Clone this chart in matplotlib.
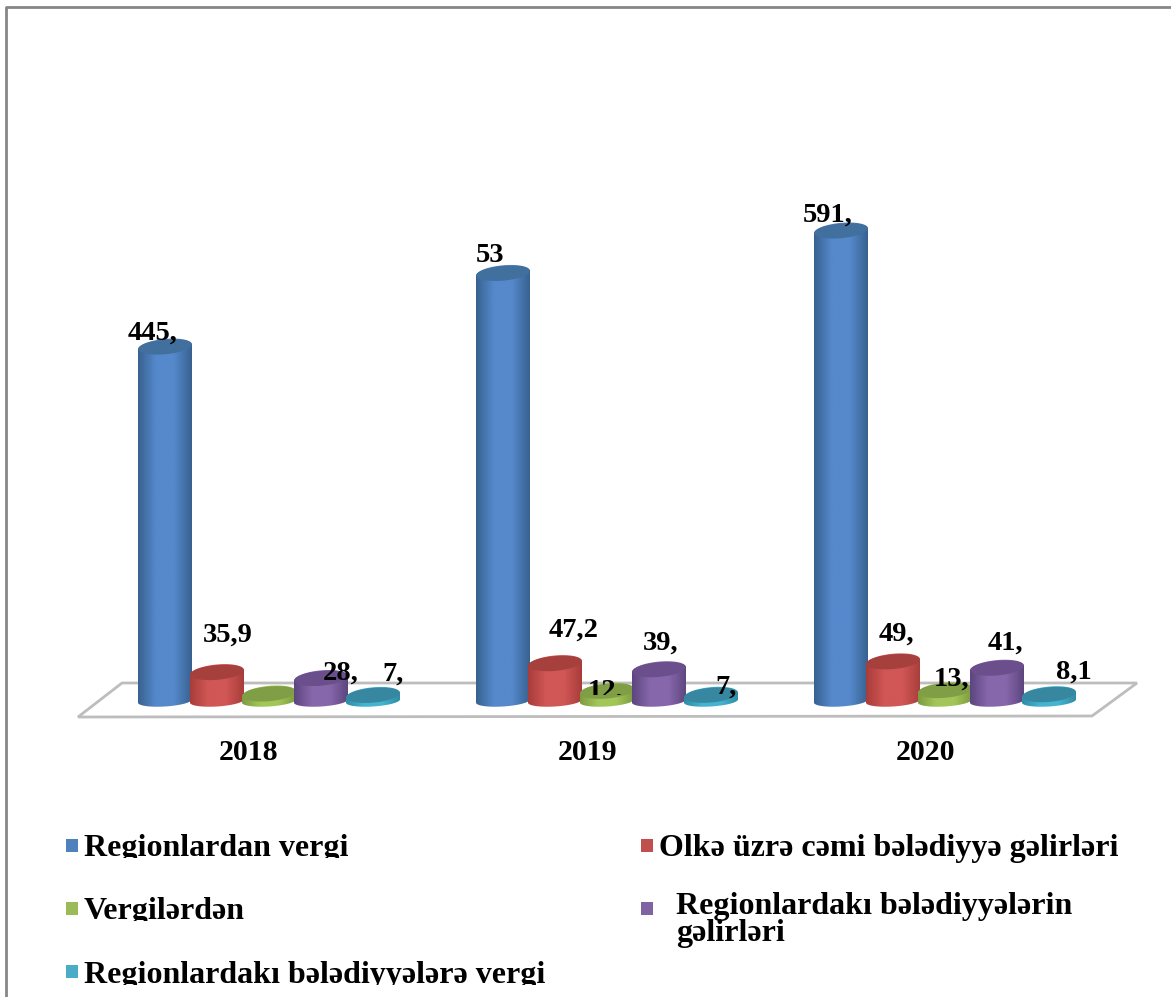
import matplotlib
matplotlib.use('Agg')
import matplotlib.pyplot as plt
import numpy as np
from matplotlib.patches import Polygon, Rectangle
from matplotlib.transforms import Affine2D

# Values in the order the bars stand inside each year
years = ['2018', '2019', '2020']
series_names = ['Regionlardan vergi', 'Olkə üzrə cəmi bələdiyyə gəlirləri', 'Vergilərdən',
                'Regionlardakı bələdiyyələrin\ngəlirləri', 'Regionlardakı bələdiyyələrə vergi']
vergi = [445.4, 538.0, 591.4]
gelir = [35.9, 47.2, 49.4]
vergilerden = [9.0, 12.4, 13.3]
bel_gelir = [28.5, 39.5, 41.4]
bel_vergi = [7.2, 7.4, 8.1]
values = [vergi, gelir, vergilerden, bel_gelir, bel_vergi]

# Data labels as printed, some of them are cut short
labels_vergi = ['445,', '53', '591,']
labels_gelir = ['35,9', '47,2', '49,']
labels_vergilerden = ['', '12,', '13,']
labels_bel_gelir = ['28,', '39,', '41,']
labels_bel_vergi = ['7,', '7,', '8,1']
labels = [labels_vergi, labels_gelir, labels_vergilerden, labels_bel_gelir, labels_bel_vergi]

# edge, centre, lid
colors = [('#38618f', '#5589cc', '#41709f'),
          ('#a83c3a', '#d05755', '#a5403d'),
          ('#7d9b40', '#a3c659', '#7f9e45'),
          ('#5c457e', '#8767ab', '#6a4f8c'),
          ('#2f8ba6', '#45b4d0', '#36879f')]
legend_colors = ['#4f81bd', '#c0504d', '#9bbb59', '#8064a2', '#4bacc6']

W, H = 1171, 997
PX_PER_UNIT = 0.795   # y scale
BASE_Y = 701          # pixel row of the value 0
GROUP_STEP = 338      # pixels between the years
FIRST_GROUP = 269     # pixel column of the first year's centre
BAR_STEP = 52
RX, RY, RY_BASE = 27, 8, 5.5

plt.rcParams['font.family'] = ['Liberation Serif', 'DejaVu Serif']

fig = plt.figure(figsize=(W / 100, H / 100), dpi=100, facecolor='white')
ax = fig.add_axes([0, 0, 1, 1])
ax.axis('off')
xlim = (-FIRST_GROUP / GROUP_STEP, (W - FIRST_GROUP) / GROUP_STEP)
ylim = (-(H - BASE_Y) / PX_PER_UNIT, BASE_Y / PX_PER_UNIT)

# Pixel layout helper for the things that are not data (floor, frame, legend)
px = Affine2D().scale(1 / W, -1 / H).translate(0, 1) + fig.transFigure


def px_text(x, y, s, size=20.5, ha='center', clip_bottom=None, **kw):
    t = fig.text(x / W, 1 - (y + 2) / H, s, fontsize=size, fontweight='bold', ha=ha, va='center',
                 color='black', zorder=20, **kw)
    if clip_bottom is not None:
        t.set_clip_path(Rectangle((0, 0), W, clip_bottom, transform=px))
        t.set_clip_on(True)
    return t


def ellipse(cx, cy, rx, ry, t):
    # slightly tilted ellipse, right side is higher
    xs = cx + rx * np.cos(t)
    ys = cy + ry * np.sin(t) + np.cos(t) * ry * 0.3
    return np.column_stack([xs, ys])


def cylinder(cx, value, col, z):
    rx = RX / GROUP_STEP
    ry = RY / PX_PER_UNIT
    edge, mid, lid = col
    lower = ellipse(cx, 0, rx, RY_BASE / PX_PER_UNIT, np.linspace(np.pi, 2 * np.pi, 40))
    upper = ellipse(cx, value, rx, ry, np.linspace(0, np.pi, 40))
    outline = np.vstack([lower, upper])
    cmap = matplotlib.colors.LinearSegmentedColormap.from_list('c', [edge, mid, mid, edge], 256)
    grad = np.linspace(0, 1, 256).reshape(1, -1)
    im = ax.imshow(grad, cmap=cmap, aspect='auto', zorder=z, interpolation='bilinear',
                   extent=(cx - rx, cx + rx, -2 * ry, value + 2 * ry))
    im.set_clip_path(Polygon(outline, transform=ax.transData))
    top = ellipse(cx, value, rx * 0.985, ry * 0.92, np.linspace(0, 2 * np.pi, 80))
    ax.add_patch(Polygon(top, closed=True, facecolor=lid, edgecolor='none', zorder=z + 0.1))


# Frame around the chart
ax.add_line(plt.Line2D([6, 6, W], [H, 7, 7], color='#868686', lw=2, transform=px, zorder=1))

# Floor of the 3D plot
floor = [(78, 717), (122, 683), (1137, 683), (1092, 716)]
ax.add_patch(Polygon(floor, closed=True, facecolor='white', edgecolor='#bdbdbd', lw=2, transform=px, zorder=1))

# Bars, one year at a time, left to right
for g in range(len(years)):
    for s in range(len(values)):
        cx = g + (s - 2) * BAR_STEP / GROUP_STEP
        cylinder(cx, values[s][g], colors[s], 3 + s * 0.5 + g)
ax.set_xlim(*xlim)
ax.set_ylim(*ylim)

# Data labels, hand placed as in a manually arranged office chart
label_x = [[153, 490, 828], [228, 574, 896], [0, 606, 952], [341, 661, 1005], [393, 726, 1074]]
label_y = [[331, 254, 213], [633, 628, 632], [0, 689, 677], [671, 641, 641], [672, 685, 670]]
for s in range(len(values)):
    for g in range(len(years)):
        if labels[s][g]:
            clip = 695 if labels[s][g] == '12,' else None
            px_text(label_x[s][g], label_y[s][g], labels[s][g], clip_bottom=clip)

# Year labels under the floor
for x, year in zip([249, 588, 926], years):
    px_text(x, 751, year, size=21.5)

# Legend, two columns; the left column has its descenders cut off
marker_xy = [(66, 839), (641, 839), (66, 902), (641, 902), (66, 965)]
text_xy = [(84, 846, 858), (659, 846, None), (84, 909, 921), (676, 918, None), (84, 973, 985)]
for i, name in enumerate(series_names):
    mx, my = marker_xy[i]
    ax.add_patch(Rectangle((mx, my), 12, 13, facecolor=legend_colors[i], edgecolor='none', transform=px, zorder=10))
    tx, ty, clip = text_xy[i]
    px_text(tx, ty, name, size=23, ha='left', clip_bottom=clip, linespacing=0.95)

fig.savefig('out.png', dpi=100)
